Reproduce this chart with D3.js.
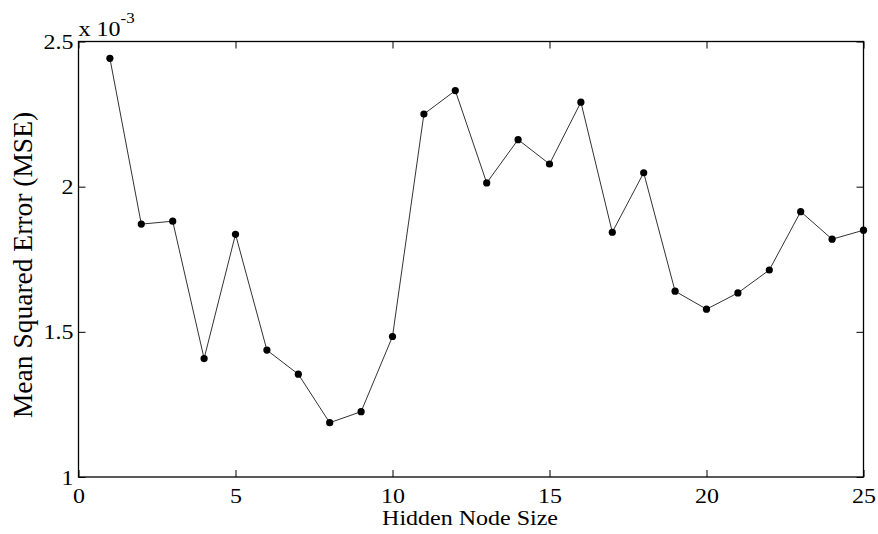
<!DOCTYPE html>
<html>
<head>
<meta charset="utf-8">
<script src="https://cdn.jsdelivr.net/npm/d3@7"></script>
<style>
  html, body { margin: 0; padding: 0; background: #fff; }
  svg { display: block; }
  text { font-family: "Liberation Serif", "Times New Roman", serif; fill: #000; }
</style>
</head>
<body>
<svg id="chart" width="878" height="534"></svg>
<script>
// Data (MSE in units of 1e-3)
const hiddenNodes = [1,2,3,4,5,6,7,8,9,10,11,12,13,14,15,16,17,18,19,20,21,22,23,24,25];
const mseValues = [2.442,1.871,1.881,1.408,1.836,1.437,1.354,1.187,1.225,1.484,2.250,2.331,2.013,2.162,2.078,2.291,1.843,2.048,1.640,1.578,1.634,1.713,1.914,1.819,1.850];
const xTicks = [0,5,10,15,20,25];
const yTicks = [1,1.5,2,2.5];
const xLabel = "Hidden Node Size";
const yLabel = "Mean Squared Error (MSE)";

(function () {
const svg = d3.select("#chart");
const pLeft = 78.5, pRight = 863.5, pTop = 41.5, pBottom = 477;
const x = d3.scaleLinear().domain([0,25]).range([pLeft,pRight]);
const y = d3.scaleLinear().domain([1,2.5]).range([pBottom,pTop]);
const tickLen = 7;
const fs = 24;
const sq = 0.86; // vertical squeeze of horizontal texts, as in the reference

const xAxis = d3.axisBottom(x).tickValues(xTicks).tickSizeInner(-tickLen).tickSizeOuter(0).tickFormat(d3.format("d"));
const yAxis = d3.axisLeft(y).tickValues(yTicks).tickSizeInner(-tickLen).tickSizeOuter(0).tickFormat(d => String(d));
const xAxisTop = d3.axisTop(x).tickValues(xTicks).tickSizeInner(-tickLen).tickSizeOuter(0).tickFormat("");
const yAxisRight = d3.axisRight(y).tickValues(yTicks).tickSizeInner(-tickLen).tickSizeOuter(0).tickFormat("");

function styleAxis(g) {
  g.select(".domain").remove();
  g.selectAll(".tick line").attr("stroke", "#000").attr("stroke-width", 1);
  g.selectAll(".tick text").style("font-size", fs + "px").style("font-family", '"Liberation Serif", serif').attr("fill", "#000");
}

svg.append("g").attr("transform", `translate(0,${pBottom})`).call(xAxis).call(styleAxis)
  .selectAll(".tick text").attr("dy", 0).attr("y", 0)
  .attr("transform", `translate(0,25.5) scale(1,${sq})`);
svg.append("g").attr("transform", `translate(${pLeft},0)`).call(yAxis).call(styleAxis)
  .selectAll(".tick text").attr("x", 0).attr("dy", "0.34em")
  .attr("transform", `translate(-5,0) scale(1,${sq})`);
svg.append("g").attr("transform", `translate(0,${pTop})`).call(xAxisTop).call(styleAxis);
svg.append("g").attr("transform", `translate(${pRight},0)`).call(yAxisRight).call(styleAxis);

svg.append("rect").attr("x", pLeft).attr("y", pTop).attr("width", pRight-pLeft).attr("height", pBottom-pTop)
  .attr("fill", "none").attr("stroke", "#000").attr("stroke-width", 1.3);

const data = hiddenNodes.map((h,i) => ({h, v: mseValues[i]}));
svg.append("path").datum(data)
  .attr("fill", "none").attr("stroke", "#333").attr("stroke-width", 1)
  .attr("d", d3.line().x(d => x(d.h)).y(d => y(d.v)));
svg.append("g").selectAll("circle").data(data).join("circle")
  .attr("cx", d => x(d.h)).attr("cy", d => y(d.v)).attr("r", 3.6).attr("fill", "#000");

const ex = svg.append("text").attr("transform", `translate(${pLeft},36) scale(1,${sq})`).style("font-size", fs + "px");
ex.append("tspan").text("x 10");
ex.append("tspan").attr("dy", -13 / sq).style("font-size", "17px").text("-3");

svg.append("text").attr("transform", `translate(${(pLeft+pRight)/2 - 1},525) scale(1,${sq})`).attr("text-anchor", "middle")
  .style("font-size", fs + "px").text(xLabel);
svg.append("text").attr("transform", `translate(32,265) rotate(-90)`)
  .attr("text-anchor", "middle").style("font-size", "27.5px").text(yLabel);
})();
</script>
</body>
</html>
